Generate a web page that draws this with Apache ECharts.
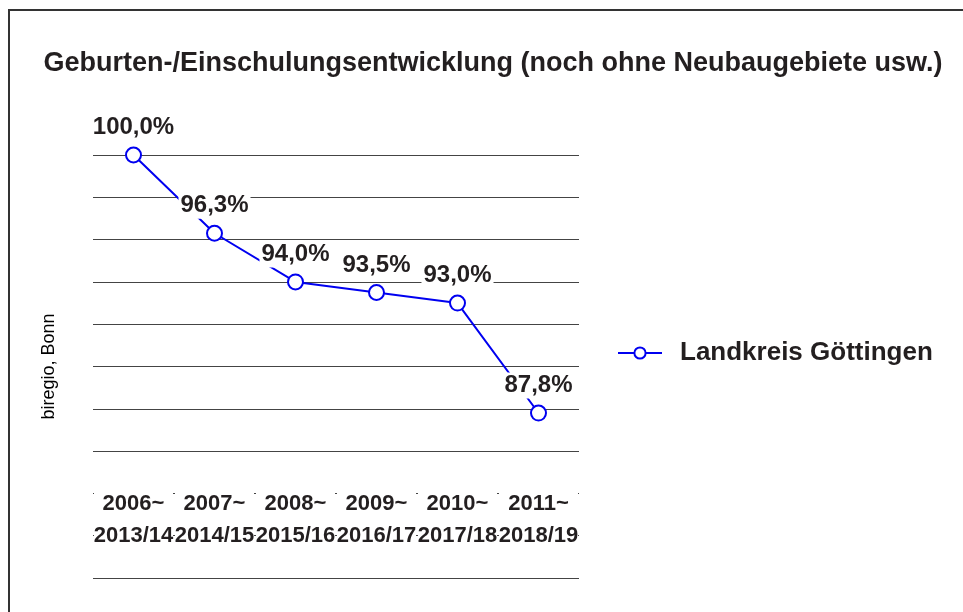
<!DOCTYPE html>
<html>
<head>
<meta charset="utf-8">
<script src="https://cdn.jsdelivr.net/npm/echarts@6/dist/echarts.min.js"></script>
<style>
  html, body { margin: 0; padding: 0; background: #fff; }
  #chart_con { width: 963px; height: 612px; }
</style>
</head>
<body>
<div id="chart_con"></div>
<script>
// Werte aus dem Diagramm
var categories = ['2006~\n2013/14', '2007~\n2014/15', '2008~\n2015/16', '2009~\n2016/17', '2010~\n2017/18', '2011~\n2018/19'];
var values = [100.0, 96.3, 94.0, 93.5, 93.0, 87.8];
var seriesName = 'Landkreis Göttingen';
var yMin = 80;
var yMax = 100;
var yStep = 2;

var font = "'Liberation Sans', Arial, sans-serif";
var blue = '#0000f0';
var ink = '#231f20';

var chart = echarts.init(document.getElementById('chart_con'));
var option = {
    animation: false,
    backgroundColor: '#fff',
    graphic: [
        {
            type: 'rect',
            shape: {x: 9, y: 10, width: 970, height: 620},
            style: {fill: 'none', stroke: '#333', lineWidth: 2},
            silent: true
        }
    ],
    title: {
        text: 'Geburten-/Einschulungsentwicklung (noch ohne Neubaugebiete usw.)',
        left: 488,
        textAlign: 'center',
        top: 45,
        textStyle: {fontFamily: font, fontSize: 27, fontWeight: 'bold', color: ink}
    },
    legend: {
        left: 612,
        top: 335,
        itemWidth: 44,
        itemHeight: 14,
        data: [seriesName],
        textStyle: {fontFamily: font, fontSize: 26, fontWeight: 'bold', color: ink, padding: [0, 0, 0, 13]}
    },
    grid: {left: 93, right: 384, top: 155, bottom: 34},
    xAxis: {
        type: 'category',
        data: categories,
        boundaryGap: true,
        axisLine: {show: false},
        axisTick: {show: false},
        axisLabel: {
            inside: true,
            margin: 22,
            interval: 0,
            width: 77,
            overflow: 'none',
            align: 'center',
            lineHeight: 32,
            padding: [4, 1],
            backgroundColor: '#fff',
            fontFamily: font,
            fontSize: 22,
            fontWeight: 'bold',
            color: ink
        },
        z: 5
    },
    yAxis: {
        type: 'value',
        min: yMin,
        max: yMax,
        interval: yStep,
        name: 'biregio, Bonn',
        nameLocation: 'middle',
        nameGap: 35,
        nameTextStyle: {fontFamily: font, fontSize: 18, color: '#000'},
        axisLine: {show: false},
        axisTick: {show: false},
        axisLabel: {show: false},
        splitLine: {lineStyle: {color: '#444', width: 1}}
    },
    series: [
        {
            name: seriesName,
            type: 'line',
            data: values,
            symbol: 'emptyCircle',
            symbolSize: 15,
            lineStyle: {color: blue, width: 2},
            itemStyle: {color: blue, borderColor: blue, borderWidth: 2},
            label: {
                show: true,
                position: 'top',
                distance: 6,
                padding: [1, 2],
                backgroundColor: '#fff',
                fontFamily: font,
                fontSize: 24,
                fontWeight: 'bold',
                color: ink,
                formatter: function (p) {
                    return p.value.toFixed(1).replace('.', ',') + '%';
                }
            }
        }
    ]
};
chart.setOption(option);
window.addEventListener('resize', function () {
    chart.resize();
});
</script>
</body>
</html>
